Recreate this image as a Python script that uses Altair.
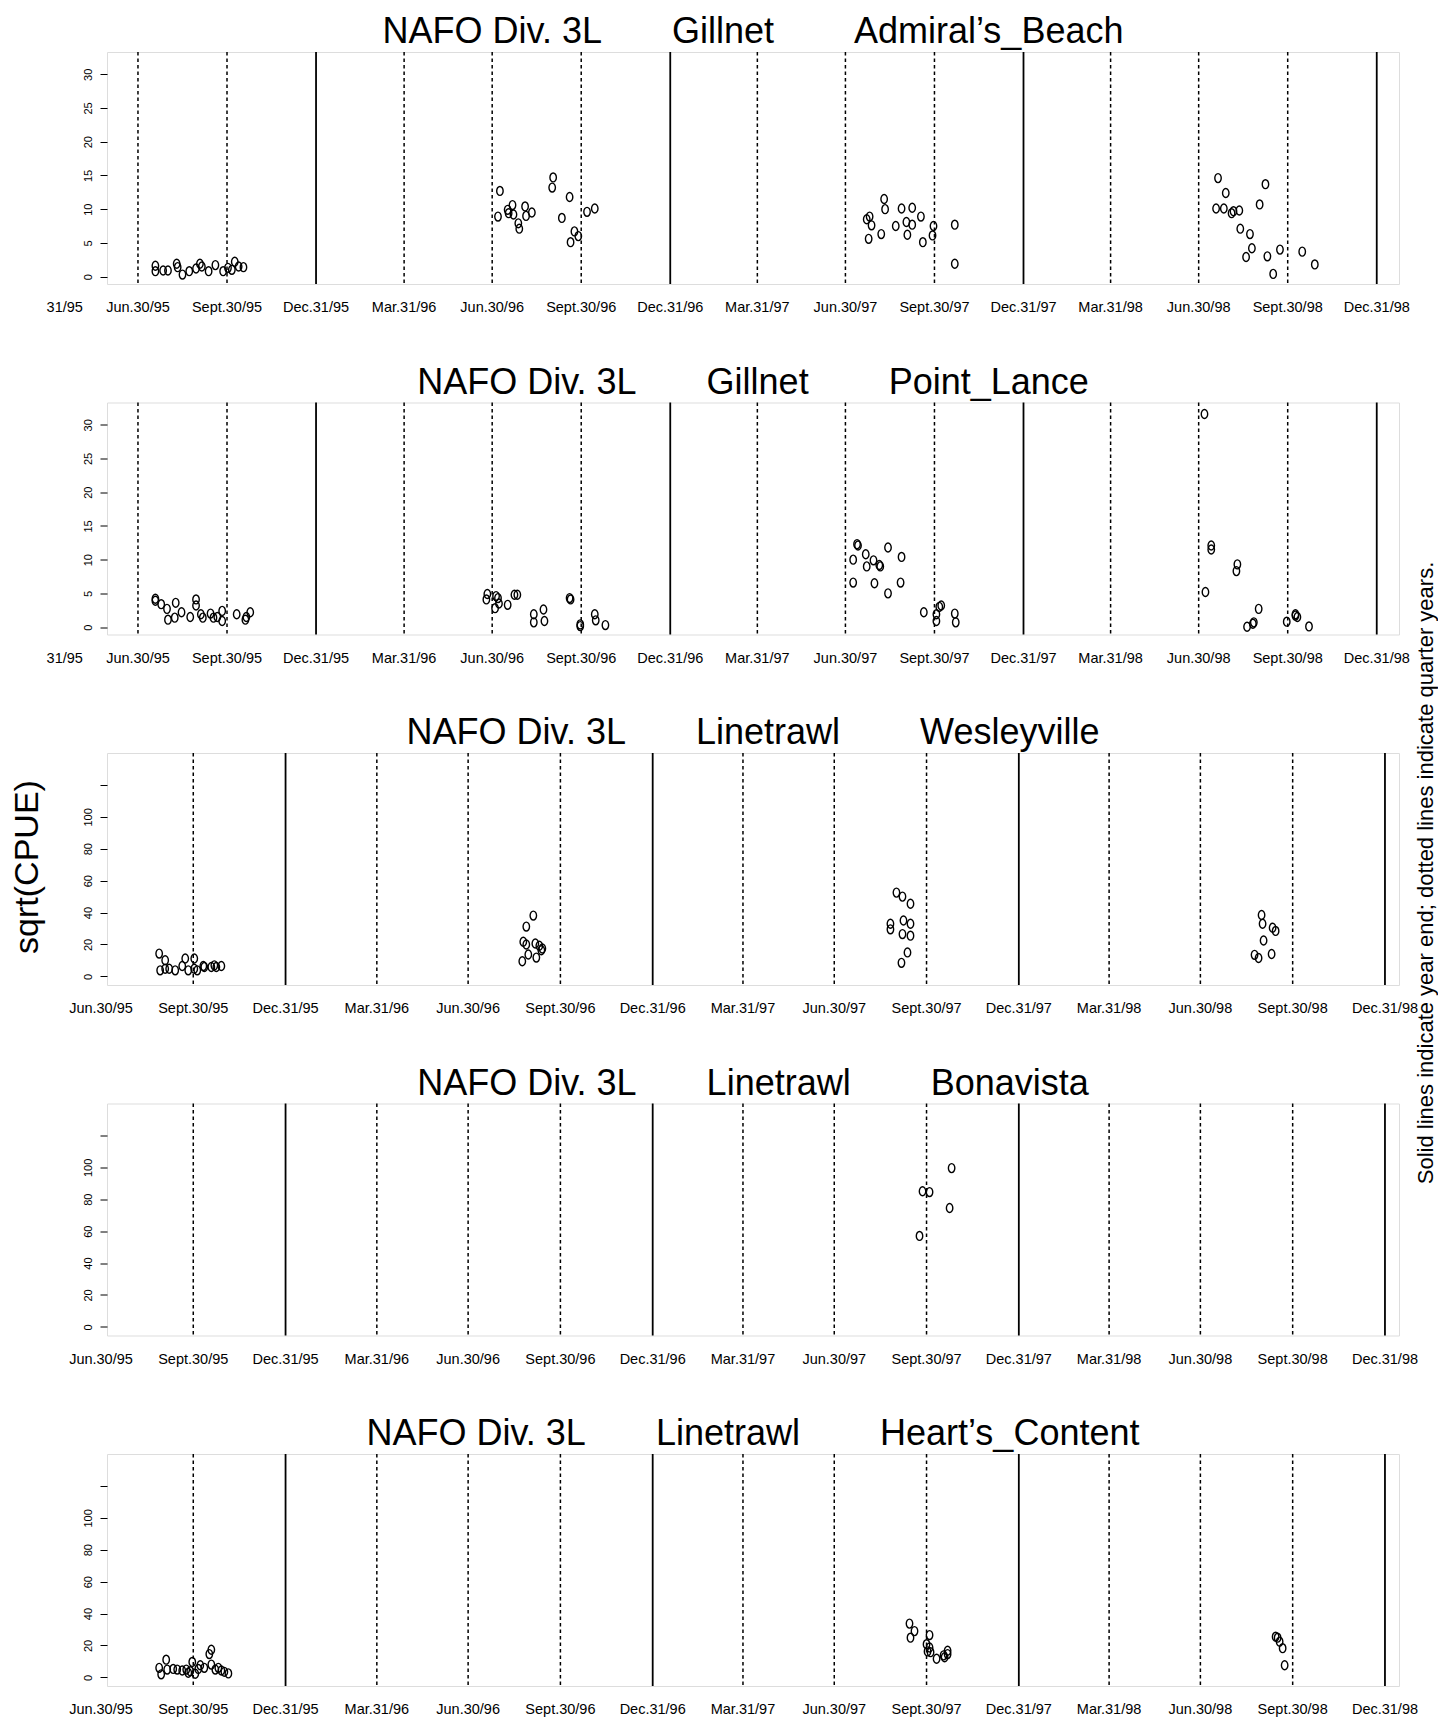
import altair as alt
import pandas as pd
from datetime import date

EPOCH = date(1995, 1, 1)


def day(s):
    y, m, d = map(int, s.split("-"))
    return (date(y, m, d) - EPOCH).days


# ---- reference lines and date labels ----
quarter_dates = ["1995-06-30", "1995-09-30", "1996-03-31", "1996-06-30", "1996-09-30",
                 "1997-03-31", "1997-06-30", "1997-09-30", "1998-03-31", "1998-06-30",
                 "1998-09-30"]
year_end_dates = ["1995-12-31", "1996-12-31", "1997-12-31", "1998-12-31"]
tick_dates = ["1995-03-31", "1995-06-30", "1995-09-30", "1995-12-31", "1996-03-31",
              "1996-06-30", "1996-09-30", "1996-12-31", "1997-03-31", "1997-06-30",
              "1997-09-30", "1997-12-31", "1998-03-31", "1998-06-30", "1998-09-30",
              "1998-12-31"]
tick_labels = ["Mar.31/95", "Jun.30/95", "Sept.30/95", "Dec.31/95", "Mar.31/96",
               "Jun.30/96", "Sept.30/96", "Dec.31/96", "Mar.31/97", "Jun.30/97",
               "Sept.30/97", "Dec.31/97", "Mar.31/98", "Jun.30/98", "Sept.30/98",
               "Dec.31/98"]

# ---- Gillnet, Admiral's Beach ----
ab_dates = ["1995-07-18", "1995-07-18", "1995-07-26", "1995-07-31", "1995-08-09", "1995-08-10",
            "1995-08-15", "1995-08-22", "1995-08-29", "1995-09-02", "1995-09-04", "1995-09-11",
            "1995-09-18", "1995-09-26", "1995-10-01", "1995-10-05", "1995-10-08", "1995-10-12",
            "1995-10-17",
            "1996-07-08", "1996-07-06", "1996-07-16", "1996-07-17", "1996-07-21", "1996-07-22",
            "1996-07-27", "1996-07-28", "1996-08-03", "1996-08-04", "1996-08-10", "1996-08-31",
            "1996-09-01", "1996-09-10", "1996-09-18", "1996-09-19", "1996-09-23", "1996-09-27",
            "1996-10-06", "1996-10-14",
            "1997-07-22", "1997-07-25", "1997-07-27", "1997-07-24", "1997-08-06", "1997-08-09",
            "1997-08-10", "1997-08-21", "1997-08-27", "1997-09-01", "1997-09-02", "1997-09-07",
            "1997-09-07", "1997-09-16", "1997-09-18", "1997-09-29", "1997-09-28", "1997-10-21",
            "1997-10-21",
            "1998-07-20", "1998-07-28", "1998-07-18", "1998-07-26", "1998-08-03", "1998-08-05",
            "1998-08-11", "1998-08-12", "1998-08-22", "1998-08-24", "1998-08-18", "1998-09-01",
            "1998-09-07", "1998-09-09", "1998-09-15", "1998-09-22", "1998-10-15", "1998-10-28"]
ab_vals = [1.6, 0.8, 0.9, 0.9, 1.9, 1.4, 0.3, 0.8, 1.2, 1.9, 1.5, 0.8, 1.7, 0.8, 1.3, 1.0, 2.2, 1.5, 1.4,
           12.7, 8.9, 9.9, 9.4, 10.6, 9.2, 7.9, 7.1, 10.4, 9.0, 9.5, 13.2, 14.7, 8.7, 11.8, 5.1, 6.7,
           6.0, 9.6, 10.1,
           8.5, 8.9, 7.6, 5.6, 6.3, 11.5, 10.0, 7.5, 10.1, 8.1, 6.2, 10.2, 7.7, 8.9, 5.1, 7.5, 6.1,
           7.7, 1.9,
           14.6, 12.4, 10.1, 10.1, 9.4, 9.7, 9.8, 7.1, 6.3, 4.2, 2.9, 10.7, 13.7, 3.0, 0.4, 4.0,
           3.7, 1.8]

# ---- Gillnet, Point Lance ----
pl_dates = ["1995-07-18", "1995-07-18", "1995-07-24", "1995-07-30", "1995-07-31", "1995-08-07",
            "1995-08-08", "1995-08-14", "1995-08-23", "1995-08-29", "1995-08-29", "1995-09-03",
            "1995-09-05", "1995-09-13", "1995-09-16", "1995-09-20", "1995-09-25", "1995-09-25",
            "1995-10-10", "1995-10-19", "1995-10-24", "1995-10-20",
            "1996-06-25", "1996-06-24", "1996-07-04", "1996-07-06", "1996-07-03", "1996-07-07",
            "1996-07-16", "1996-07-23", "1996-07-26", "1996-08-12", "1996-08-12", "1996-08-22",
            "1996-08-23", "1996-09-18", "1996-09-19", "1996-09-29", "1996-09-29", "1996-10-14",
            "1996-10-15", "1996-10-25",
            "1997-07-12", "1997-07-13", "1997-07-08", "1997-07-08", "1997-07-21", "1997-07-22",
            "1997-07-29", "1997-07-30", "1997-08-04", "1997-08-05", "1997-08-13", "1997-08-13",
            "1997-08-27", "1997-08-26", "1997-09-19", "1997-10-02", "1997-10-05", "1997-10-07",
            "1997-10-02", "1997-10-21", "1997-10-22",
            "1998-07-06", "1998-07-07", "1998-07-13", "1998-07-13", "1998-08-09", "1998-08-08",
            "1998-08-31", "1998-08-26", "1998-08-19", "1998-08-25", "1998-09-29", "1998-10-08",
            "1998-10-10", "1998-10-08", "1998-10-22"]
pl_vals = [4.2, 3.9, 3.4, 2.7, 1.1, 1.4, 3.6, 2.2, 1.5, 4.1, 3.2, 1.9, 1.4, 2.0, 1.4, 1.5, 0.9, 2.4,
           1.9, 1.1, 2.2, 1.5,
           4.9, 4.1, 4.6, 4.3, 2.8, 3.5, 3.3, 4.8, 4.8, 1.9, 0.7, 2.6, 0.9, 4.3, 4.1, 0.4, 0.15,
           1.9, 1.0, 0.3,
           12.3, 12.1, 10.0, 6.6, 10.8, 9.0, 9.9, 6.5, 9.2, 9.0, 11.8, 5.0, 10.4, 6.6, 2.2, 1.9,
           3.0, 3.2, 0.9, 2.0, 0.7,
           31.6, 5.2, 12.1, 11.5, 9.3, 8.3, 2.7, 0.7, 0.05, 0.5, 0.8, 1.7, 1.5, 1.9, 0.1]

# ---- Linetrawl, Wesleyville ----
wv_dates = ["1995-08-27", "1995-08-28", "1995-09-02", "1995-09-02", "1995-09-06", "1995-09-12",
            "1995-09-19", "1995-09-22", "1995-09-25", "1995-10-01", "1995-10-01", "1995-10-04",
            "1995-10-10", "1995-10-11", "1995-10-18", "1995-10-21", "1995-10-23", "1995-10-28",
            "1996-08-23", "1996-08-27", "1996-09-03", "1996-08-24", "1996-08-27", "1996-09-05",
            "1996-08-29", "1996-09-06", "1996-09-09", "1996-09-11", "1996-09-12",
            "1997-08-31", "1997-09-06", "1997-09-14", "1997-08-25", "1997-08-25", "1997-09-07",
            "1997-09-14", "1997-09-06", "1997-09-14", "1997-09-11", "1997-09-05",
            "1998-08-30", "1998-08-31", "1998-09-10", "1998-09-13", "1998-09-01", "1998-08-23",
            "1998-08-27", "1998-09-09"]
wv_vals = [14.3, 3.8, 10.1, 4.8, 4.8, 3.8, 6.5, 11.2, 3.8, 11.2, 4.8, 3.8, 6.5, 5.9, 5.9, 6.9, 5.9, 6.5,
           9.5, 31.2, 38.1, 21.7, 20.0, 20.6, 13.7, 11.8, 19.2, 16.4, 17.5,
           52.5, 50.0, 45.5, 33.0, 29.5, 35.0, 33.0, 26.5, 25.5, 15.0, 8.5,
           38.5, 33.0, 30.5, 28.5, 22.5, 13.5, 11.5, 14.0]

# ---- Linetrawl, Bonavista ----
bv_dates = ["1997-09-23", "1997-09-26", "1997-10-03", "1997-10-23", "1997-10-25"]
bv_vals = [57.0, 85.0, 84.5, 74.5, 99.5]

# ---- Linetrawl, Heart's Content ----
hc_dates = ["1995-08-27", "1995-08-29", "1995-09-03", "1995-09-04", "1995-09-10", "1995-09-14",
            "1995-09-19", "1995-09-23", "1995-09-25", "1995-09-27", "1995-09-29", "1995-10-02",
            "1995-10-05", "1995-10-07", "1995-10-11", "1995-10-16", "1995-10-18", "1995-10-18",
            "1995-10-22", "1995-10-25", "1995-10-28", "1995-10-31", "1995-11-04",
            "1997-09-13", "1997-09-18", "1997-09-14", "1997-10-03", "1997-09-30", "1997-10-03",
            "1997-10-01", "1997-10-04", "1997-10-10", "1997-10-18", "1997-10-21", "1997-10-21",
            "1997-10-17",
            "1998-09-13", "1998-09-15", "1998-09-17", "1998-09-20", "1998-09-22"]
hc_vals = [6.0, 1.9, 11.1, 4.9, 5.3, 4.9, 4.3, 4.9, 2.9, 3.9, 9.7, 2.3, 5.3, 7.6, 6.0, 14.6, 17.3, 8.0,
           4.9, 6.0, 4.3, 3.5, 2.5,
           33.7, 29.0, 24.9, 26.5, 20.8, 18.7, 16.3, 15.8, 11.7, 12.6, 16.7, 14.6, 13.8,
           25.5, 24.9, 22.4, 18.3, 7.6]

NB = "\u00a0"
W, H = 1292, 232
SP = 118.5
FONT = "Liberation Sans"
ELLIPSE = "M0,-1A0.72,1 0 1,1 0,1A0.72,1 0 1,1 0,-1Z"

panels = [
    dict(gear="Gillnet", site="Admiral\u2019s_Beach", dates=ab_dates, vals=ab_vals,
         xdom=("1995-05-29", "1999-01-23"), ydom=(-1.1, 33.3), yticks=[0, 5, 10, 15, 20, 25, 30],
         gap1=7, gap2=8, partial=True, notes=True),
    dict(gear="Gillnet", site="Point_Lance", dates=pl_dates, vals=pl_vals,
         xdom=("1995-05-29", "1999-01-23"), ydom=(-1.1, 33.3), yticks=[0, 5, 10, 15, 20, 25, 30],
         gap1=7, gap2=8, partial=True),
    dict(gear="Linetrawl", site="Wesleyville", dates=wv_dates, vals=wv_vals,
         xdom=("1995-07-06", "1999-01-14"), ydom=(-5.4, 140.0), yticks=[0, 20, 40, 60, 80, 100, 120],
         gap1=7, gap2=8, partial=False),
    dict(gear="Linetrawl", site="Bonavista", dates=bv_dates, vals=bv_vals,
         xdom=("1995-07-06", "1999-01-14"), ydom=(-5.4, 140.0), yticks=[0, 20, 40, 60, 80, 100, 120],
         gap1=7, gap2=8, partial=False),
    dict(gear="Linetrawl", site="Heart\u2019s_Content", dates=hc_dates, vals=hc_vals,
         xdom=("1995-07-06", "1999-01-14"), ydom=(-5.4, 140.0), yticks=[0, 20, 40, 60, 80, 100, 120],
         gap1=7, gap2=8, partial=False),
]


def make_panel(p):
    d0, d1 = day(p["xdom"][0]), day(p["xdom"][1])
    X = alt.X("day:Q", scale=alt.Scale(domain=[d0, d1], nice=False, zero=False), axis=None)

    qdf = pd.DataFrame({"day": [day(s) for s in quarter_dates if d0 < day(s) < d1]})
    ydf = pd.DataFrame({"day": [day(s) for s in year_end_dates if d0 < day(s) < d1]})
    pdf = pd.DataFrame({"day": [day(s) for s in p["dates"]], "val": p["vals"]})
    ldf = pd.DataFrame({"day": [day(s) for s in tick_dates[1:]], "label": tick_labels[1:]})

    hide_top = p["yticks"][-1] == 120
    yaxis = alt.Axis(values=p["yticks"], labelAngle=270, labelAlign="center",
                     labelBaseline="bottom", labelFontSize=11, labelFont=FONT,
                     labelColor="black", labelPadding=7, tickSize=7, tickColor="black",
                     tickWidth=1, domain=False, grid=False, title=None, labelFlush=False,
                     labelOverlap=False,
                     **({"labelExpr": "datum.value >= 120 ? '' : datum.label"} if hide_top else {}))

    q_rules = alt.Chart(qdf).mark_rule(color="black", strokeWidth=1.5,
                                       strokeDash=[3.5, 3]).encode(x=X)
    y_rules = alt.Chart(ydf).mark_rule(color="black", strokeWidth=1.8).encode(x=X)
    pts = alt.Chart(pdf).mark_point(shape=ELLIPSE, size=80, filled=False, color="black",
                                    strokeWidth=1.4, opacity=1).encode(
        x=X,
        y=alt.Y("val:Q", scale=alt.Scale(domain=list(p["ydom"]), nice=False, zero=False),
                axis=yaxis))
    labels = alt.Chart(ldf).mark_text(font=FONT, fontSize=14.5, color="black",
                                      align="center", baseline="middle").encode(
        x=X, y=alt.value(H + 24), text="label:N")
    layers = [q_rules, y_rules, pts, labels]

    if p["partial"]:
        first = pd.DataFrame({"day": [day(tick_dates[0])],
                              "label": [tick_labels[0].split(".", 1)[1]]})
        layers.append(alt.Chart(first).mark_text(font=FONT, fontSize=14.5, color="black",
                                                 align="right", baseline="middle",
                                                 dx=33).encode(
            x=X, y=alt.value(H + 24), text="label:N"))

    if p.get("notes"):
        # centred on the third panel, drawn from the first so the titles are unaffected
        mid3 = 2 * (H + SP) + H / 2
        ylab = pd.DataFrame({"t": ["sqrt(CPUE)"]})
        layers.append(alt.Chart(ylab).mark_text(font=FONT, fontSize=34, color="black",
                                                angle=270, align="center",
                                                baseline="middle").encode(
            x=alt.value(-79), y=alt.value(mid3 - 2), text="t:N"))
        note = pd.DataFrame({"t": ["Solid lines indicate year end; dotted lines indicate quarter years."]})
        layers.append(alt.Chart(note).mark_text(font=FONT, fontSize=22, color="black",
                                                angle=270, align="center",
                                                baseline="middle").encode(
            x=alt.value(W + 27), y=alt.value(mid3 + 4), text="t:N"))

    title = "NAFO Div. 3L" + NB * p["gap1"] + p["gear"] + NB * p["gap2"] + p["site"]
    return alt.layer(*layers).properties(
        width=W, height=H,
        title=alt.TitleParams(text=title, font=FONT, fontSize=36, fontWeight="normal",
                              color="black", anchor="middle", frame="group", offset=0))


chart = alt.vconcat(*[make_panel(p) for p in panels], spacing=SP, bounds="flush").properties(
    padding={"left": 2, "top": 5, "right": 0, "bottom": 0}
).configure_view(stroke="black", strokeWidth=2).configure(font=FONT, background="white")

chart.save("out.html", embed_options={"renderer": "svg", "actions": False})
